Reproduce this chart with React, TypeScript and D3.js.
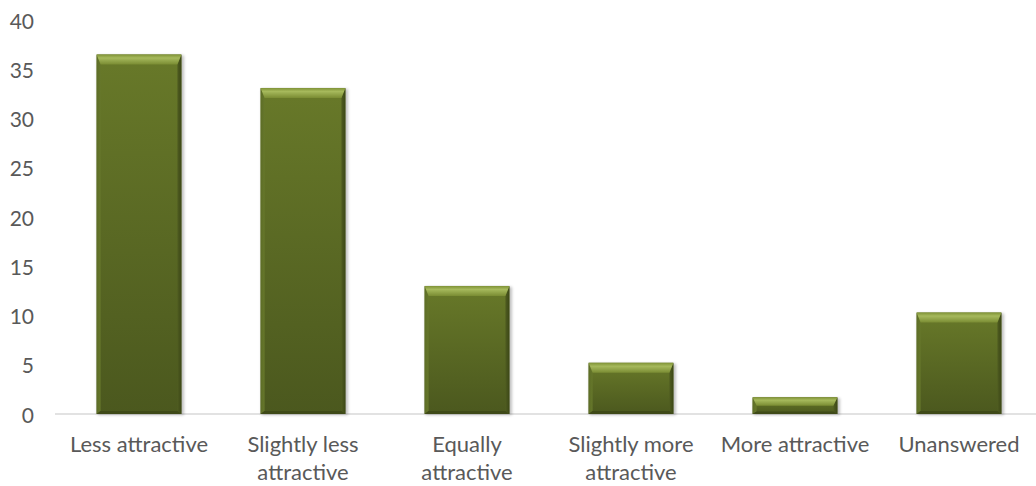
import React from "react";
import * as d3 from "d3";

const categories = [
  "Less attractive",
  "Slightly less\nattractive",
  "Equally\nattractive",
  "Slightly more\nattractive",
  "More attractive",
  "Unanswered",
];
const values = [36.5, 33.1, 13.0, 5.2, 1.7, 10.3];
const yTicks = [0, 5, 10, 15, 20, 25, 30, 35, 40];

const W = 1036;
const H = 486;

export default function App() {
  const x = d3
    .scaleBand<string>()
    .domain(categories)
    .range([57, 1041])
    .paddingInner(0.483)
    .paddingOuter(0.2415);
  const y = d3.scaleLinear().domain([0, 40]).range([414, 20]);
  const font = "Lato, 'Open Sans', sans-serif";
  const textColor = "#595959";

  return (
    <svg
      width={W}
      height={H}
      style={{ position: "absolute", left: 0, top: 0, display: "block", background: "#fff" }}
    >
      <defs>
        <linearGradient id="face" x1="0" y1="0" x2="0" y2="1">
          <stop offset="0%" stopColor="#687929" />
          <stop offset="100%" stopColor="#4b581e" />
        </linearGradient>
        <linearGradient id="topBevel" x1="0" y1="0" x2="0" y2="1">
          <stop offset="0%" stopColor="#7f9236" />
          <stop offset="35%" stopColor="#a6b95c" />
          <stop offset="100%" stopColor="#7a8c33" />
        </linearGradient>
        <linearGradient id="leftBevel" x1="0" y1="0" x2="1" y2="0">
          <stop offset="0%" stopColor="#5d6d26" />
          <stop offset="100%" stopColor="#66772b" />
        </linearGradient>
        <linearGradient id="rightBevel" x1="0" y1="0" x2="1" y2="0">
          <stop offset="0%" stopColor="#4f5c20" />
          <stop offset="100%" stopColor="#3c4716" />
        </linearGradient>
        <filter id="shadow" x="-10%" y="-10%" width="120%" height="120%">
          <feGaussianBlur stdDeviation="1.5" />
        </filter>
      </defs>

      {/* axis line */}
      <line x1={55} x2={W} y1={y(0)} y2={y(0)} stroke="#d9d9d9" strokeWidth={1.5} />

      {/* y tick labels */}
      {yTicks.map((t) => (
        <text
          key={t}
          x={34}
          y={y(t)}
          textAnchor="end"
          dominantBaseline="central"
          fontFamily={font}
          fontSize={21}
          fill={textColor}
        >
          {t}
        </text>
      ))}

      {/* bars */}
      {categories.map((c, i) => {
        const bx = x(c)!;
        const bw = x.bandwidth();
        const by = y(values[i]);
        const bh = y(0) - by;
        const bt = Math.min(10, bh * 0.5);
        const bb = Math.min(3, bh * 0.15);
        const bs = 4;
        return (
          <g key={c}>
            <rect x={bx + 1} y={by + 1} width={bw + 1.5} height={bh} fill="#000" opacity={0.25} filter="url(#shadow)" />
            <rect x={bx} y={by} width={bw} height={bh} fill="url(#face)" />
            <polygon
              points={`${bx},${by} ${bx + bs},${by + bt} ${bx + bs},${by + bh - bb} ${bx},${by + bh}`}
              fill="url(#leftBevel)"
            />
            <polygon
              points={`${bx + bw},${by} ${bx + bw - bs},${by + bt} ${bx + bw - bs},${by + bh - bb} ${bx + bw},${by + bh}`}
              fill="url(#rightBevel)"
            />
            <polygon
              points={`${bx},${by + bh} ${bx + bs},${by + bh - bb} ${bx + bw - bs},${by + bh - bb} ${bx + bw},${by + bh}`}
              fill="#3f4a18"
            />
            <polygon
              points={`${bx},${by} ${bx + bw},${by} ${bx + bw - bs},${by + bt} ${bx + bs},${by + bt}`}
              fill="url(#topBevel)"
            />
          </g>
        );
      })}

      {/* category labels */}
      {categories.map((c) => {
        const cx = x(c)! + x.bandwidth() / 2;
        return (
          <text
            key={c}
            textAnchor="middle"
            fontFamily={font}
            fontSize={22}
            fill={textColor}
          >
            {c.split("\n").map((line, j) => (
              <tspan key={j} x={cx} y={452 + j * 28}>
                {line}
              </tspan>
            ))}
          </text>
        );
      })}
    </svg>
  );
}
